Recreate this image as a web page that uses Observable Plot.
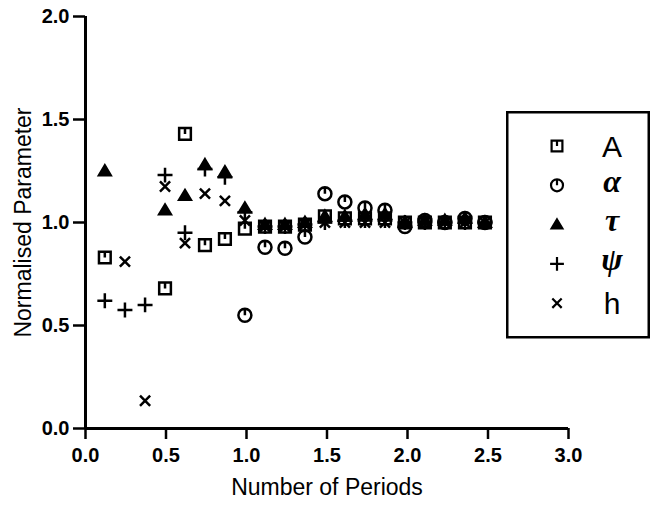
<!DOCTYPE html>
<html><head><meta charset="utf-8">
<script src="https://cdn.jsdelivr.net/npm/d3@7/dist/d3.min.js"></script>
<script src="https://cdn.jsdelivr.net/npm/@observablehq/plot@0.6/dist/plot.umd.min.js"></script>
<style>
body{margin:0;background:#fff;}
#wrap{position:relative;width:655px;height:506px;}
#legend{position:absolute;left:506px;top:111px;}
svg text{font-family:"Liberation Sans",Arial,sans-serif;fill:#000;}
g[aria-label="x-axis tick label"] text, g[aria-label="y-axis tick label"] text{font-size:20px;font-weight:bold;}
g[aria-label="x-axis label"] text, g[aria-label="y-axis label"] text{font-size:23px;font-weight:normal;}
</style></head>
<body><div id="wrap"></div>
<script>
// Data: x positions (number of periods) and normalised parameter values
const periods = [0.12,0.245,0.37,0.494,0.618,0.742,0.866,0.99,1.115,1.239,1.363,1.487,1.611,1.736,1.86,1.984,2.108,2.232,2.357,2.481];
const seriesA     = [0.83,null,null,0.68,1.43,0.89,0.92,0.97,0.98,0.98,0.99,1.03,1.02,1.02,1.02,1.00,1.00,1.00,1.00,1.00];
const seriesAlpha = [null,null,null,null,null,null,null,0.55,0.88,0.875,0.93,1.14,1.10,1.07,1.06,0.98,1.01,1.00,1.02,1.00];
const seriesTau   = [1.25,null,null,1.06,1.13,1.28,1.245,1.07,0.99,0.99,1.00,1.03,1.03,1.04,1.04,1.00,1.01,1.01,1.02,1.00];
const seriesPsi   = [0.62,0.575,0.60,1.23,0.95,1.26,1.22,1.05,0.98,0.98,0.99,1.00,1.01,1.01,1.01,1.00,1.00,1.00,1.00,1.00];
const seriesH     = [null,0.81,0.135,1.175,0.90,1.14,1.105,1.01,0.98,0.98,0.99,1.00,1.00,1.00,1.00,1.00,1.00,1.00,1.00,1.00];
const legendLabels = ["A","α","τ","ψ","h"];
const xTicks = [0,0.5,1,1.5,2,2.5,3];
const yTicks = [0,0.5,1,1.5,2];

// custom symbols
const symSquare = {draw(ctx, size){const r=Math.sqrt(size/Math.PI)*0.9; ctx.moveTo(-r,-r); ctx.lineTo(r,-r); ctx.lineTo(r,r); ctx.lineTo(-r,r); ctx.closePath(); ctx.moveTo(0,-r); ctx.lineTo(0,0);}};
const symCircle = {draw(ctx, size){const r=Math.sqrt(size/Math.PI); ctx.moveTo(r,0); ctx.arc(0,0,r,0,2*Math.PI); ctx.moveTo(0,-r); ctx.lineTo(0,0);}};
const symTriangle = {draw(ctx, size){const r=Math.sqrt(size/Math.PI)*0.85; ctx.moveTo(0,-r); ctx.lineTo(r*1.05,r*0.75); ctx.lineTo(-r*1.05,r*0.75); ctx.closePath();}};
const symPlus = {draw(ctx, size){const r=Math.sqrt(size/Math.PI)*1.15; ctx.moveTo(-r,0); ctx.lineTo(r,0); ctx.moveTo(0,-r); ctx.lineTo(0,r);}};
const symCross = {draw(ctx, size){const r=Math.sqrt(size/Math.PI)*0.78; ctx.moveTo(-r,-r); ctx.lineTo(r,r); ctx.moveTo(r,-r); ctx.lineTo(-r,r);}};
const symbols = [symSquare, symCircle, symTriangle, symPlus, symCross];
const fills = ["none","none","#000","none","none"];
const allSeries = [seriesA, seriesAlpha, seriesTau, seriesPsi, seriesH];

const rows = s => periods.map((p,i)=>({p, v:s[i]})).filter(d=>d.v!=null);

const marks = [
  Plot.axisX({ticks: xTicks, tickFormat: d3.format(".1f"), tickSize: 11, tickPadding: 8, strokeWidth: 2.5, label: "Number of Periods", labelAnchor: "center", labelOffset: 66, labelArrow: "none"}),
  Plot.axisY({ticks: yTicks, tickFormat: d3.format(".1f"), tickSize: 12, tickPadding: 4, strokeWidth: 2.5, label: "Normalised Parameter", labelAnchor: "center", labelOffset: 71, labelArrow: "none"}),
  Plot.ruleY([0], {strokeWidth: 3}),
  Plot.ruleX([0], {strokeWidth: 3}),
];
allSeries.forEach((s,i)=>{
  marks.push(Plot.dot(rows(s), {x:"p", y:"v", symbol: symbols[i], r: 6.5, stroke:"#000", strokeWidth: 2.5, fill: fills[i]}));
});

const chart = Plot.plot({
  width: 655, height: 506,
  marginLeft: 85, marginRight: 87, marginTop: 16, marginBottom: 78,
  x: {domain: [0,3]},
  y: {domain: [0,2]},
  style: {background: "#fff", color: "#000"},
  marks
});
// remove any direction arrows from axis labels
chart.querySelectorAll('g[aria-label$="axis label"] text').forEach(t => { t.textContent = t.textContent.replace(/[↑→←↓]/g, "").trim(); });
const wrap = document.getElementById("wrap");
wrap.appendChild(chart);

// legend overlay
const lg = d3.select(wrap).append("svg").attr("id","legend").attr("width",144).attr("height",228);
lg.append("rect").attr("x",1.25).attr("y",1.25).attr("width",141.5).attr("height",225).attr("fill","#fff").attr("stroke","#000").attr("stroke-width",2.5);
legendLabels.forEach((lab,i)=>{
  const cy = 35 + i*39.3;
  lg.append("path").attr("transform",`translate(51,${cy})`).attr("d", d3.symbol(symbols[i], Math.PI*6*6)()).attr("fill",fills[i]).attr("stroke","#000").attr("stroke-width",2.2);
  const greek = i>=1 && i<=3;
  lg.append("text").attr("x",106).attr("y",cy).attr("dy", greek ? "0.2em" : "0.36em").attr("text-anchor","middle")
    .style("font-family", greek ? "'Liberation Serif',serif" : "'Liberation Sans',sans-serif")
    .style("font-style", greek ? "italic" : "normal").style("font-weight", greek ? "bold" : "normal")
    .style("font-size", greek ? "32px" : "30px").text(lab);
});
</script></body></html>
